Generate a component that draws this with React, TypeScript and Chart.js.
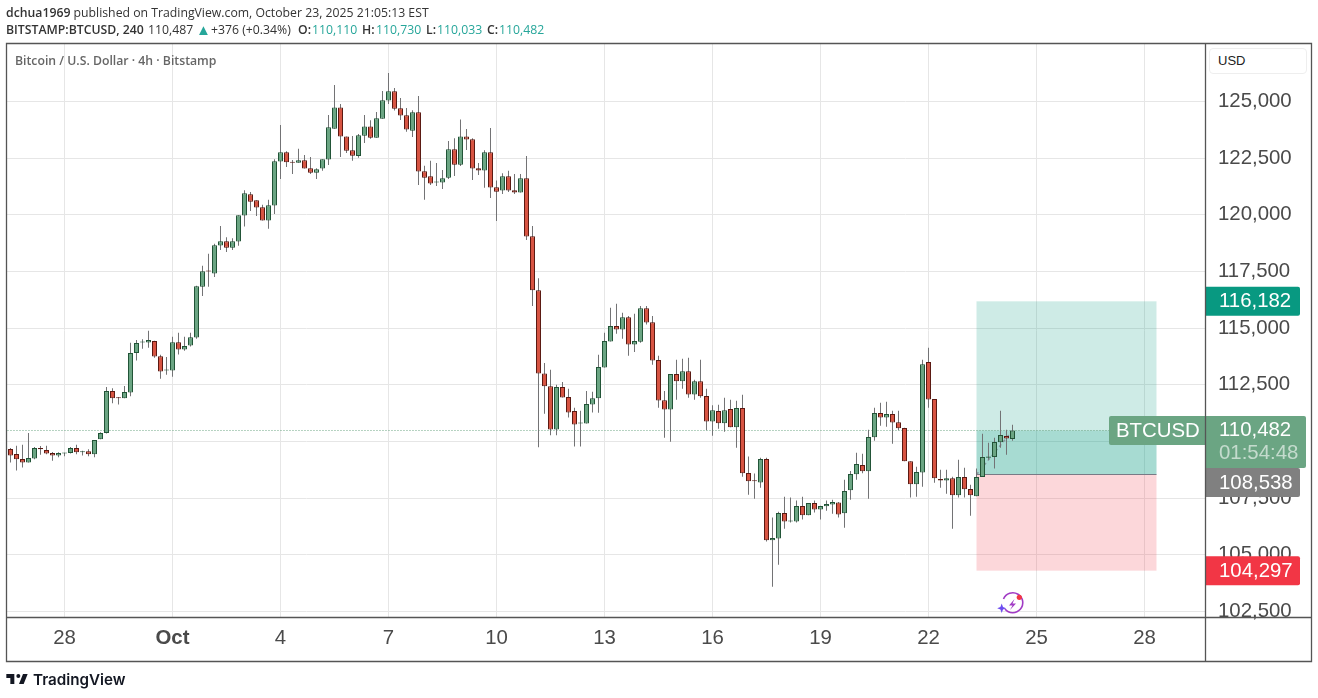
import React, { useEffect, useRef } from "react";
import { Chart, registerables } from "chart.js";

Chart.register(...registerables);

const opens = [
109660,109440,109220,109070,109250,109710,109620,109490,109380,109470,
109490,109710,109520,109570,109430,110100,110370,112220,111930,111900,
112160,113900,114370,114370,114430,113760,113130,113130,114380,114060,
114230,114590,116830,117530,117410,118640,118830,118550,118820,119970,
120910,120640,120330,119750,120410,122350,122760,122330,122300,122410,
122050,121860,122040,122440,123800,124740,123460,122850,122600,123490,
123900,123400,124240,125040,125450,124700,124390,123710,124520,121920,
121700,121420,121420,121640,122890,122210,123460,123330,122050,121950,
122760,121220,121070,121700,121080,120980,121610,119050,116670,113000,
112430,110530,112400,111960,111340,110790,110790,111630,111900,113260,
114410,115090,114940,115480,114280,114400,115880,115260,113590,111820,
111410,112970,112650,113100,112070,112660,112000,110880,111340,110800,
111430,110620,111470,108610,108270,108190,109220,105640,105720,106840,
106470,106470,107150,106740,107280,107000,107140,107220,107310,106830,
107840,108550,108960,108680,110180,111250,111060,111210,110850,110590,
109130,108110,108630,113500,111870,108340,108280,108380,107620,108430,
107900,107580,108430,109280,109310,109960,110240,110110];

const highs = [
109710,109810,109850,110370,109750,109800,109810,109530,109520,109500,
109750,109850,109590,109650,110060,110400,112400,112350,111960,112440,
114350,114480,114510,114880,114440,113820,113730,114620,114790,114620,
114790,116870,117750,118280,118720,119510,119010,118970,119980,121080,
121010,120640,120440,120660,122450,123960,122800,122420,122910,122640,
122550,122050,122450,124400,125730,124890,123460,123480,123570,124400,
124170,124540,125460,126260,125600,125150,124710,124610,125240,122160,
122380,122290,121980,123260,123380,124210,123790,123380,122290,122850,
123830,121510,121830,121940,121800,121800,122600,119510,117200,113460,
113160,112500,112620,112320,111490,111350,112220,112190,113820,114790,
115900,116070,115680,115530,115630,115980,115980,115530,113780,112220,
112970,113600,113650,113690,112720,113600,112320,111600,111620,111930,
111840,111800,112060,109330,108580,109280,109280,106640,106900,107560,
107520,107390,107560,107280,107390,107160,107390,107430,107330,108310,
108690,109500,109460,110520,111490,111710,111750,111350,111350,110600,
109130,108880,113600,114130,111870,108750,108750,108440,109190,108840,
108090,108800,110340,109940,110160,111350,110520,110730];

const lows = [
109070,108720,108850,109070,109210,109410,109430,109150,109300,109350,
109470,109430,109380,109340,109300,110100,110350,111680,111630,111900,
111990,113570,114090,114130,113690,112760,112940,112850,113840,114000,
114190,114530,116420,116820,117260,118450,118360,118450,118630,119480,
120170,119950,119750,119380,120040,121580,122110,121800,122300,122040,
121800,121580,121940,122200,123800,122550,122730,122380,122520,123170,
123360,123400,124240,124890,124600,124180,123660,123430,121320,120660,
121320,121270,121140,121580,121710,122150,122860,121540,121760,121190,
120740,119730,120920,121010,120920,120980,118890,115980,109740,111220,
110270,110270,111940,111060,109780,109780,110790,111280,111270,113260,
114410,114750,114530,113780,113950,114350,115160,113380,111490,110160,
109990,111840,112320,111930,111840,111930,110490,110250,110560,110430,
110620,109720,108440,107650,107470,107960,105580,103590,104560,106150,
106420,106420,106550,106740,106860,106550,106940,106810,106640,106190,
107430,108310,108590,107470,110030,110690,110650,109900,110490,109120,
107520,107560,108000,111490,108180,107960,107690,106150,107520,107520,
106720,107580,108430,109190,108800,109720,109410,110033];

const closes = [
109380,109210,109070,109270,109710,109650,109470,109380,109490,109500,
109710,109520,109570,109430,110060,110370,112220,111900,111900,112180,
113900,114340,114400,114470,113750,113090,113160,114380,114060,114210,
114600,116850,117510,117500,118660,118830,118550,118830,119980,120950,
120580,120320,119750,120420,122360,122760,122320,122300,122410,122040,
121860,122010,122450,123860,124740,123450,122830,122610,123510,123900,
123400,124260,125050,125450,124680,124380,123760,124520,121910,121640,
121380,121450,121610,122890,122210,123460,123320,122040,121950,122760,
121200,121020,121700,121070,120980,121610,119040,116670,113000,112430,
110530,112400,111940,111280,110750,110820,111650,111910,113280,114430,
115090,114940,115480,114280,114430,115880,115250,113570,111810,111410,
112970,112650,113100,112070,112660,111990,110880,111380,110800,111380,
110620,111470,108590,108240,108240,109220,105640,105740,106840,106470,
106500,107150,106740,107280,107000,107150,107240,107330,106780,107810,
108560,109000,108680,110190,111250,111060,111210,110840,110580,109120,
108110,108650,113410,111850,108370,108280,108380,107620,108430,107890,
107620,108430,109310,109330,109970,110280,110130,110482];

const priceTicks = [102500, 105000, 107500, 110000, 112500, 115000, 117500, 120000, 122500, 125000];
const dayTickIndexes = [9, 27, 45, 63, 81, 99, 117, 135, 153, 171, 189];
const dayTickLabels = ["28", "Oct", "4", "7", "10", "13", "16", "19", "22", "25", "28"];

const currentPrice = 110482;
const targetPrice = 116182;
const entryPrice = 108538;
const stopPrice = 104297;
const positionStartIndex = 161;
const positionEndIndex = 191;
const lastIndex = 167;
const countdown = "01:54:48";

const UP = "#6ba583";
const UP_BORDER = "#225437";
const DOWN = "#d75442";
const DOWN_BORDER = "#5b1a13";
const WICK = "#737375";
const GRID = "#e6e6e6";
const FRAME = "#555555";
const AXIS_TEXT = "#4a4a4a";
const AXIS_FONT = "Liberation Sans, Arial, sans-serif";
const AXIS_SIZE = 20.4;

const fmt = (v: number) => Math.round(v).toLocaleString("en-US");
const indexes = opens.map((_, i) => i);

const overlayBefore = {
  id: "positionTool",
  beforeDatasetsDraw(chart: any) {
    const { ctx, scales: { x, y } } = chart;
    const l = x.getPixelForValue(positionStartIndex);
    const r = x.getPixelForValue(positionEndIndex);
    const yT = y.getPixelForValue(targetPrice);
    const yE = y.getPixelForValue(entryPrice);
    const yS = y.getPixelForValue(stopPrice);
    const yC = y.getPixelForValue(currentPrice);
    ctx.save();
    ctx.fillStyle = "rgba(8,153,129,0.2)";
    ctx.fillRect(l, yT, r - l, yE - yT);
    ctx.fillRect(l, yC, r - l, yE - yC);
    ctx.fillStyle = "rgba(242,54,69,0.2)";
    ctx.fillRect(l, yE, r - l, yS - yE);
    ctx.strokeStyle = "#787b86";
    ctx.lineWidth = 1;
    ctx.beginPath();
    ctx.moveTo(l, Math.floor(yE) + 0.5);
    ctx.lineTo(r, Math.floor(yE) + 0.5);
    ctx.stroke();
    ctx.restore();
  },
};

function priceBox(ctx: any, x: number, top: number, w: number, h: number, color: string, text: string, leftRound = false) {
  ctx.fillStyle = color;
  ctx.beginPath();
  ctx.roundRect(x, top, w, h, leftRound ? [2, 0, 0, 2] : [0, 2, 2, 0]);
  ctx.fill();
  ctx.fillStyle = "#ffffff";
  ctx.textAlign = "left";
  ctx.textBaseline = "middle";
  ctx.fillText(text, x + (leftRound ? 7 : 13), top + h / 2 + 0.5);
}

const overlayAfter = {
  id: "frameAndLabels",
  afterDraw(chart: any) {
    const { ctx, chartArea: a, scales: { y } } = chart;
    ctx.save();
    ctx.font = AXIS_SIZE + "px " + AXIS_FONT;
    const ax = a.right + 1;
    const h = 29;
    priceBox(ctx, ax, y.getPixelForValue(targetPrice) - h / 2, 94, h, "#089981", fmt(targetPrice));
    const yC = y.getPixelForValue(currentPrice);
    const curTop = Math.floor(yC) - 14;
    priceBox(ctx, a.right - 96, curTop, 96, h, UP, "BTCUSD", true);
    ctx.fillStyle = UP;
    ctx.beginPath();
    ctx.roundRect(ax, curTop, 100, 52, [0, 2, 2, 0]);
    ctx.fill();
    ctx.fillStyle = "#ffffff";
    ctx.textBaseline = "middle";
    ctx.fillText(fmt(currentPrice), ax + 13, curTop + 14);
    ctx.fillStyle = "rgba(255,255,255,0.6)";
    ctx.fillText(countdown, ax + 13, curTop + 37);
    priceBox(ctx, ax, curTop + 52, 94, h, "#808080", fmt(entryPrice));
    priceBox(ctx, ax, y.getPixelForValue(stopPrice) - h / 2, 94, h, "#f23645", fmt(stopPrice));

    ctx.strokeStyle = FRAME;
    ctx.lineWidth = 1.3;
    ctx.beginPath();
    ctx.moveTo(6.5, 43.5);
    ctx.lineTo(1311.5, 43.5);
    ctx.lineTo(1311.5, 661.5);
    ctx.lineTo(6.5, 661.5);
    ctx.closePath();
    ctx.moveTo(6.5, a.bottom + 0.5);
    ctx.lineTo(1311.5, a.bottom + 0.5);
    ctx.moveTo(a.right + 0.5, 43.5);
    ctx.lineTo(a.right + 0.5, 661.5);
    ctx.stroke();
    ctx.restore();
  },
};

export default function App() {
  const ref = useRef<HTMLCanvasElement>(null);
  useEffect(() => {
    const chart = new Chart(ref.current as HTMLCanvasElement, {
      type: "bar",
      data: {
        datasets: [
          {
            type: "bar",
            label: "Body",
            order: 1,
            data: indexes.map((i) => ({ x: i, y: [opens[i], closes[i]] })),
            backgroundColor: indexes.map((i) => (closes[i] >= opens[i] ? UP : DOWN)),
            borderColor: indexes.map((i) => (closes[i] >= opens[i] ? UP_BORDER : DOWN_BORDER)),
            borderWidth: 1,
            borderSkipped: false,
            barThickness: 5,
            minBarLength: 1,
            grouped: false,
            inflateAmount: 0,
          },
          {
            type: "bar",
            label: "Wick",
            order: 2,
            data: indexes.map((i) => ({ x: i, y: [lows[i], highs[i]] })),
            backgroundColor: WICK,
            borderWidth: 0,
            barThickness: 1,
            grouped: false,
            inflateAmount: 0,
          },
          {
            type: "line",
            label: "Stats",
            order: 3,
            data: [
              { x: positionStartIndex, y: entryPrice },
              { x: lastIndex, y: currentPrice },
            ],
            borderColor: "rgba(120,123,134,0.7)",
            borderWidth: 1.5,
            borderDash: [3, 3],
            pointRadius: 0,
          },
          {
            type: "line",
            label: "Last",
            order: 4,
            data: [
              { x: -1, y: currentPrice },
              { x: 200, y: currentPrice },
            ],
            borderColor: UP,
            borderWidth: 1,
            borderDash: [1, 2],
            pointRadius: 0,
          },
        ],
      } as any,
      options: {
        responsive: false,
        animation: false,
        events: [],
        layout: { padding: { left: 7, top: 44, right: 6, bottom: 37 } },
        plugins: { legend: { display: false }, tooltip: { enabled: false }, title: { display: false } },
        scales: {
          x: {
            type: "linear",
            position: "bottom",
            offset: false,
            bounds: "data",
            min: -0.5833,
            max: 199.0834,
            grid: { color: GRID, drawTicks: false, offset: false },
            border: { display: false },
            afterBuildTicks(scale: any) {
              scale.ticks = dayTickIndexes.map((value) => ({ value }));
            },
            afterFit(scale: any) {
              scale.height = 44;
            },
            ticks: {
              autoSkip: false,
              maxRotation: 0,
              padding: 9,
              color: AXIS_TEXT,
              font: (c: any) => ({
                family: AXIS_FONT,
                size: AXIS_SIZE,
                weight: c.tick && c.tick.label === "Oct" ? "bold" : "normal",
              }),
              callback: (v: any) => {
                const k = dayTickIndexes.indexOf(v);
                return k >= 0 ? dayTickLabels[k] : "";
              },
            },
          },
          y: {
            type: "linear",
            position: "right",
            bounds: "data",
            min: 102252,
            max: 127537,
            grid: { color: GRID, drawTicks: false },
            border: { display: false },
            afterBuildTicks(scale: any) {
              scale.ticks = priceTicks.map((value) => ({ value }));
            },
            afterFit(scale: any) {
              scale.width = 107;
            },
            ticks: {
              padding: 13,
              labelOffset: 0,
              color: AXIS_TEXT,
              font: { family: AXIS_FONT, size: AXIS_SIZE },
              callback: (v: any) => fmt(v),
            },
          },
        },
      } as any,
      plugins: [overlayBefore, overlayAfter],
    });
    return () => chart.destroy();
  }, []);

  const teal = { color: "#26a69a" };
  const semi = { fontWeight: 600 };
  const hdr: React.CSSProperties = {
    position: "absolute",
    left: 6,
    fontFamily: "'Open Sans', sans-serif",
    fontSize: 12.25,
    lineHeight: "16px",
    color: "#333",
    whiteSpace: "nowrap",
  };
  const at = (left: number, top: number, extra: React.CSSProperties = {}): React.CSSProperties => ({ ...hdr, left, top, ...extra });
  return (
    <div style={{ position: "absolute", left: 0, top: 0, width: 1318, height: 698, background: "#fff", overflow: "hidden" }}>
      <canvas ref={ref} width={1318} height={698} style={{ display: "block", width: 1318, height: 698 }} />
      <div style={at(6, 5)}>
        <b style={semi}>dchua1969</b> published on TradingView.com, October 23, 2025 21:05:13 EST
      </div>
      <div style={at(6, 22, semi)}>BITSTAMP:BTCUSD, 240</div>
      <div style={at(148, 22)}>110,487</div>
      <div style={at(196, 21, { ...teal, fontSize: 15 })}>▲</div>
      <div style={at(211, 22)}>+376 (+0.34%)</div>
      <div style={at(298, 22, semi)}>O:</div>
      <div style={at(312, 22, teal)}>110,110</div>
      <div style={at(362, 22, semi)}>H:</div>
      <div style={at(376, 22, teal)}>110,730</div>
      <div style={at(426, 22, semi)}>L:</div>
      <div style={at(437, 22, teal)}>110,033</div>
      <div style={at(487, 22, semi)}>C:</div>
      <div style={at(499, 22, teal)}>110,482</div>
      <div style={at(15, 52.5, { fontWeight: 600, color: "#666" })}>Bitcoin / U.S. Dollar · 4h · Bitstamp</div>
      <div
        style={{
          position: "absolute", left: 1209, top: 48, width: 98, height: 26, border: "1px solid #eeeeee", borderRadius: 4,
          background: "#fff", fontFamily: AXIS_FONT, fontSize: 13, lineHeight: "23px", color: "#222", paddingLeft: 8, boxSizing: "border-box",
        }}
      >
        USD
      </div>
      <svg style={{ position: "absolute", left: 996, top: 590 }} width={32} height={30} viewBox="0 0 32 30">
        <path d="M5.5 10 A10 10 0 1 1 7 20" fill="none" stroke="#a13bc5" strokeWidth="1.6" transform="translate(2 -1)" />
        <path d="M18.5 9 L13 15.5 L16.5 15.5 L14 20 L20 13.5 L16.5 13.5 Z" fill="#a13bc5" />
        <circle cx="23.3" cy="7.3" r="2.6" fill="#f23645" />
        <path d="M5.7 13.5 L7 17 L10.2 18.3 L7 19.6 L5.7 23 L4.4 19.6 L1.2 18.3 L4.4 17 Z" fill="#6c4cf0" />
      </svg>
      <svg style={{ position: "absolute", left: 6, top: 674 }} width={22} height={10} viewBox="2 6 32 15">
        <path d="M14 6H2v6h6v9h6V6zM28 21h-7l6-15h7l-6 15z" fill="#131722" />
        <circle cx="20" cy="9" r="3" fill="#131722" />
      </svg>
      <div
        style={{
          position: "absolute", left: 33, top: 670, fontFamily: "Inter, sans-serif", fontWeight: 600, fontSize: 15.2,
          lineHeight: "20px", color: "#131722",
        }}
      >
        TradingView
      </div>
    </div>
  );
}
